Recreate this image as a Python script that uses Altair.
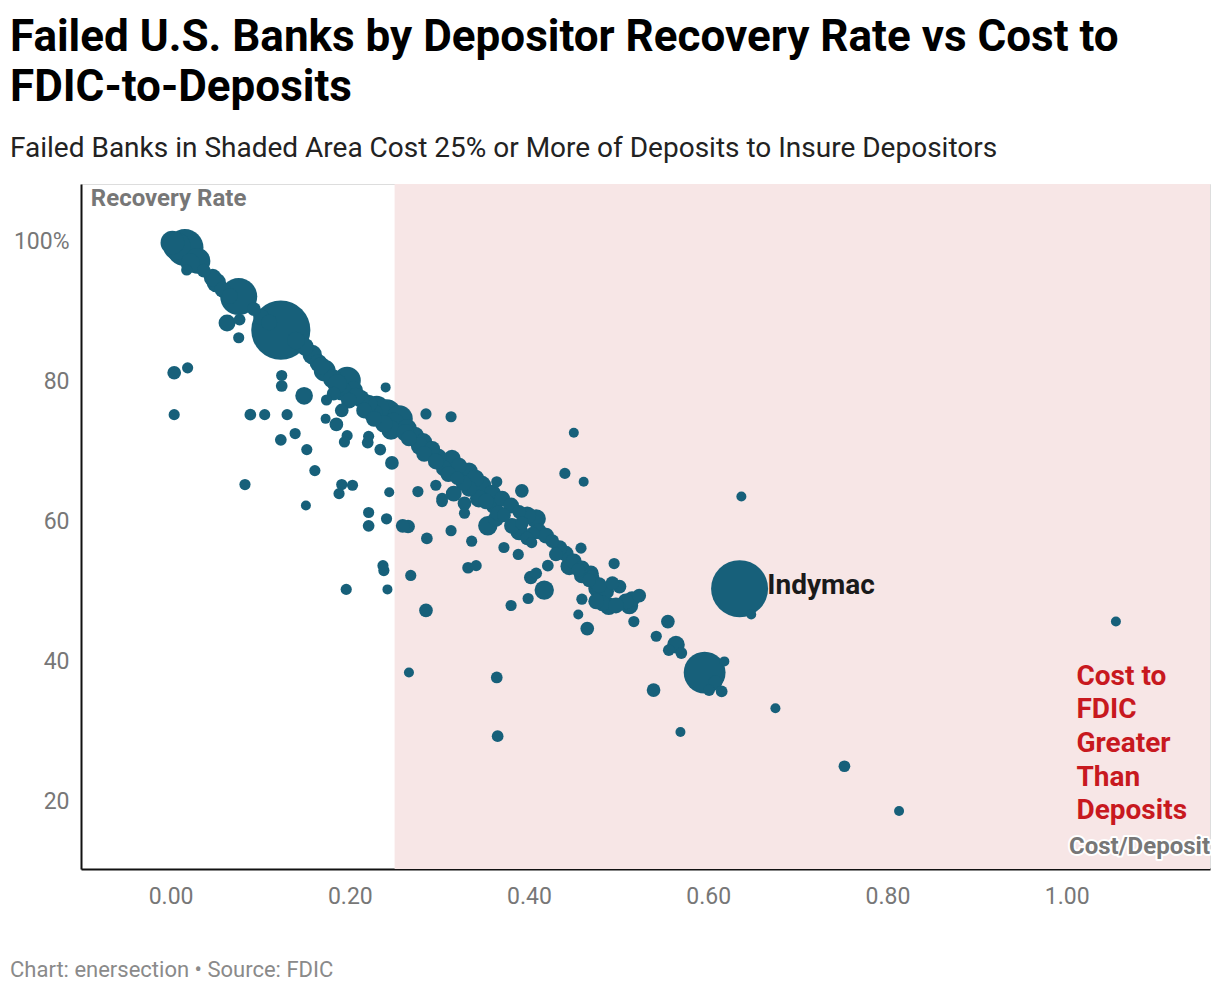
import altair as alt
import pandas as pd

# ---- data (cost to FDIC / deposits, recovery rate %, relative deposit size)
cost = [
    0.002, 0.016, 0.007, 0.030, 0.022, 0.018, 0.037, 0.051, 0.058, 0.076,
    0.063, 0.077, 0.076, 0.123, 0.093, 0.101, 0.150, 0.158, 0.165, 0.172,
    0.181, 0.197, 0.191, 0.204, 0.212, 0.221, 0.230, 0.241, 0.255, 0.264,
    0.273, 0.282, 0.292, 0.299, 0.314, 0.322, 0.333, 0.340, 0.347, 0.359,
    0.370, 0.380, 0.389, 0.398, 0.408, 0.381, 0.389, 0.411, 0.419, 0.426,
    0.434, 0.441, 0.445, 0.450, 0.459, 0.469, 0.467, 0.475, 0.486, 0.493,
    0.501, 0.482, 0.489, 0.497, 0.512, 0.515, 0.523,
    0.249, 0.238, 0.266, 0.283, 0.305, 0.320, 0.333, 0.344, 0.361, 0.372,
    0.363, 0.398, 0.216, 0.199, 0.182, 0.227, 0.316, 0.328,
    0.004, 0.019, 0.004, 0.083, 0.089, 0.105, 0.124, 0.124, 0.130, 0.123,
    0.139, 0.152, 0.161, 0.151, 0.149, 0.174, 0.173, 0.185, 0.191, 0.197,
    0.194, 0.240, 0.191, 0.203, 0.188, 0.221, 0.221, 0.241, 0.244, 0.247,
    0.234, 0.220, 0.221, 0.237, 0.238, 0.196, 0.242, 0.276, 0.259, 0.265,
    0.286, 0.313, 0.336, 0.296, 0.303, 0.303, 0.328, 0.285, 0.313, 0.268,
    0.285, 0.332, 0.341, 0.354, 0.372, 0.388, 0.403, 0.392, 0.364, 0.421,
    0.402, 0.408, 0.417, 0.399, 0.380, 0.459, 0.455, 0.458, 0.450, 0.440,
    0.461, 0.495, 0.465, 0.517, 0.542, 0.555, 0.564, 0.556, 0.570, 0.596,
    0.618, 0.615, 0.601, 0.608, 0.539, 0.635, 0.648, 0.637, 0.266, 0.364,
    0.365, 0.569, 0.675, 0.752, 0.813, 1.055,
    0.475, 0.508, 0.478, 0.459, 0.470,
    0.140, 0.168, 0.186, 0.207, 0.226, 0.246, 0.262, 0.278, 0.296, 0.310,
    0.327, 0.352, 0.366, 0.392, 0.404, 0.430, 0.455, 0.047, 0.066, 0.110,
]

recovery = [
    99.6, 98.9, 99.1, 97.0, 96.7, 95.7, 95.6, 93.9, 92.9, 91.9,
    88.1, 88.6, 86.0, 87.1, 90.1, 89.0, 84.7, 83.6, 82.4, 81.3,
    80.1, 79.9, 78.4, 78.4, 77.3, 76.6, 75.9, 75.1, 74.4, 73.0,
    72.0, 71.1, 70.1, 69.0, 68.7, 67.7, 66.9, 65.9, 64.9, 63.7,
    63.0, 62.0, 61.1, 60.6, 60.1, 59.1, 58.3, 58.3, 57.7, 56.9,
    55.9, 55.1, 53.3, 54.0, 53.0, 52.3, 51.3, 50.1, 49.7, 50.9,
    50.4, 48.0, 47.6, 47.7, 47.7, 48.6, 49.1,
    73.7, 73.7, 71.6, 69.4, 67.3, 65.9, 64.4, 63.0, 61.9, 60.6,
    60.1, 57.3, 75.6, 77.0, 78.0, 74.4, 63.7, 62.3,
    81.0, 81.7, 75.0, 65.0, 75.0, 75.0, 80.6, 79.1, 75.0, 71.4,
    72.3, 70.0, 67.0, 62.0, 77.7, 77.1, 74.4, 73.6, 75.6, 72.0,
    71.1, 78.9, 65.0, 64.9, 63.7, 61.0, 59.1, 60.1, 63.9, 68.1,
    70.0, 71.0, 71.9, 53.4, 52.7, 50.0, 50.0, 64.0, 59.1, 59.0,
    57.3, 58.4, 56.9, 64.9, 63.0, 62.6, 60.9, 75.1, 74.7, 52.0,
    47.0, 53.1, 53.4, 59.1, 56.0, 55.0, 56.7, 64.1, 65.4, 53.4,
    51.7, 52.3, 49.9, 48.7, 47.7, 48.6, 46.4, 55.9, 72.4, 66.6,
    65.4, 53.7, 44.4, 45.4, 43.3, 45.4, 42.1, 41.3, 40.9, 38.1,
    39.7, 35.4, 35.6, 36.7, 35.6, 50.1, 46.4, 63.3, 38.1, 37.4,
    29.0, 29.6, 33.0, 24.7, 18.3, 45.4,
    48.3, 48.3, 50.6, 52.0, 51.6,
    85.6, 82.0, 79.4, 77.6, 75.2, 72.8, 72.4, 70.5, 68.3, 66.5,
    65.2, 62.6, 60.9, 59.5, 58.0, 55.0, 52.8, 94.6, 92.0, 88.2,
]

deposits = [
    4.5, 11, 6, 5.3, 3, 1, 1.5, 3, 2, 11,
    2.3, 1.1, 1, 28, 1.5, 2, 2.5, 3, 2.5, 3.8,
    3, 6, 3, 3, 2.5, 2.5, 5, 7, 6, 3,
    2.5, 2.5, 2, 2, 2.5, 2, 2.5, 2.5, 3, 2.5,
    2, 2, 1.5, 2.5, 3, 2, 2.5, 2, 2, 1.5,
    2, 2, 2.5, 2, 2, 2, 1.5, 2, 2, 1.5,
    1.5, 2, 2.5, 2, 2.5, 2, 1.5,
    3.8, 2.5, 2, 2, 2, 1.5, 2, 2.5, 2, 1.5,
    2, 1.5, 2, 2, 1.5, 2, 2, 1.5,
    1.5, 1, 1, 1, 1.1, 1, 1, 1.1, 1, 1.1,
    1, 1, 1, 0.8, 2.5, 1, 0.8, 1.5, 1.5, 1,
    1, 0.8, 1, 1, 1, 1, 1.1, 1, 0.8, 1.5,
    1.1, 1.1, 1, 1, 1, 1, 0.8, 1, 1.5, 1.5,
    1.1, 1, 1, 1, 1.1, 1.1, 1, 1, 1, 1,
    1.5, 1.1, 1, 3, 1, 1, 1, 1.5, 1, 1.1,
    1.5, 1.1, 3, 1, 1, 1, 0.8, 1, 0.8, 1,
    0.8, 1, 1.5, 1, 1, 1.5, 2.5, 1.1, 1.1, 14,
    0.8, 1.1, 1.1, 1.5, 1.5, 26, 0.8, 0.8, 0.8, 1.1,
    1.1, 0.8, 0.8, 1.1, 0.8, 0.8,
    2, 2, 2, 2, 2,
    2.5, 2.5, 3, 2.5, 3, 3, 2.5, 2.5, 2, 2,
    2, 2, 2, 1.5, 1.5, 1.5, 1.5, 2.5, 2, 2,
]

x_ticks = [0.0, 0.2, 0.4, 0.6, 0.8, 1.0]
y_ticks = [20, 40, 60, 80, 100]
x_domain = [-0.1, 1.16]
y_domain = [10, 108]
shade_start = 0.25

title_lines = ["Failed U.S. Banks by Depositor Recovery Rate vs Cost to", "FDIC-to-Deposits"]
subtitle = "Failed Banks in Shaded Area Cost 25% or More of Deposits to Insure Depositors"
footer = "Chart: enersection \u2022 Source: FDIC"

FONT = "Roboto"
DOT = "#17607a"
GREY = "#777777"

df = pd.DataFrame({"cost": cost, "recovery": recovery, "deposits": deposits})
df = df.sort_values("deposits", ascending=False).reset_index(drop=True)

xs = alt.Scale(domain=x_domain, nice=False, zero=False)
ys = alt.Scale(domain=y_domain, nice=False, zero=False)

x_axis = alt.Axis(
    values=x_ticks, format=".2f", title=None, grid=False, ticks=False,
    domainColor="#111111", domainWidth=2, labelColor=GREY, labelFont=FONT,
    labelFontSize=23, labelPadding=16)
y_axis = alt.Axis(
    values=y_ticks, title=None, grid=False, ticks=False,
    labelExpr="datum.value == 100 ? '100%' : datum.label",
    domainColor="#111111", domainWidth=2, labelColor=GREY, labelFont=FONT,
    labelFontSize=23, labelPadding=12, labelOffset=2)


def X(field):
    return alt.X(field, scale=xs, axis=x_axis)


def Y(field):
    return alt.Y(field, scale=ys, axis=y_axis)


shade_df = pd.DataFrame({"x0": [shade_start], "x1": [x_domain[1]], "y0": [y_domain[0]], "y1": [y_domain[1]]})
shade = alt.Chart(shade_df).mark_rect(color="#f7e6e6").encode(
    x=X("x0:Q"), x2="x1:Q", y=Y("y0:Q"), y2="y1:Q",
)

points = alt.Chart(df).mark_circle(color=DOT, opacity=1).encode(
    x=X("cost:Q"),
    y=Y("recovery:Q"),
    size=alt.Size("deposits:Q", scale=alt.Scale(domain=[0, 28], range=[0, 3500]), legend=None),
)

indy = alt.Chart(pd.DataFrame({"x": [0.666], "y": [50.5], "t": ["Indymac"]})).mark_text(
    align="left", baseline="middle", font=FONT, fontSize=28, fontWeight="bold", color="#1a1a1a"
).encode(x=X("x:Q"), y=Y("y:Q"), text="t:N")

red = alt.Chart(pd.DataFrame({"x": [1.011], "y": [39.5]})).mark_text(
    align="left", baseline="top", font=FONT, fontSize=28, fontWeight="bold", color="#c8191f",
    lineHeight=33.6, text=["Cost to", "FDIC", "Greater", "Than", "Deposits"]
).encode(x=X("x:Q"), y=Y("y:Q"))

ylab = alt.Chart(pd.DataFrame({"x": [-0.089], "y": [105.8], "t": ["Recovery Rate"]})).mark_text(
    align="left", baseline="middle", font=FONT, fontSize=24, fontWeight="bold", color=GREY
).encode(x=X("x:Q"), y=Y("y:Q"), text="t:N")

xlab_df = pd.DataFrame({"x": [x_domain[1]], "y": [13.2], "t": ["Cost/Deposit"]})
xlab_halo = alt.Chart(xlab_df).mark_text(
    align="right", baseline="middle", font=FONT, fontSize=24, fontWeight="bold", color="white",
    stroke="white", strokeWidth=4, strokeJoin="round"
).encode(x=X("x:Q"), y=Y("y:Q"), text="t:N")
xlab = alt.Chart(xlab_df).mark_text(
    align="right", baseline="middle", font=FONT, fontSize=24, fontWeight="bold", color=GREY
).encode(x=X("x:Q"), y=Y("y:Q"), text="t:N")

foot = alt.Chart(pd.DataFrame({"t": [footer]})).mark_text(
    align="left", baseline="middle", font=FONT, fontSize=22, color="#8a8a8a"
).encode(x=alt.value(-71), y=alt.value(786), text="t:N")

chart = alt.layer(shade, points, indy, red, ylab, xlab_halo, xlab, foot).properties(
    width=1129,
    height=685,
    autosize=alt.AutoSizeParams(type="none"),
    padding={"left": 73, "top": 176, "right": 2, "bottom": 129},
    title=alt.TitleParams(
        text=title_lines,
        subtitle=subtitle,
        anchor="start",
        frame="group",
        dx=-71,
        font=FONT,
        fontSize=44,
        fontWeight="bold",
        color="#000000",
        lineHeight=50,
        subtitleFont=FONT,
        subtitleFontSize=28,
        subtitleColor="#222222",
        subtitlePadding=25,
        offset=21,
    ),
).configure_view(strokeWidth=0).configure(background="white")

chart.save("out.html", embed_options={"renderer": "svg", "actions": False})
